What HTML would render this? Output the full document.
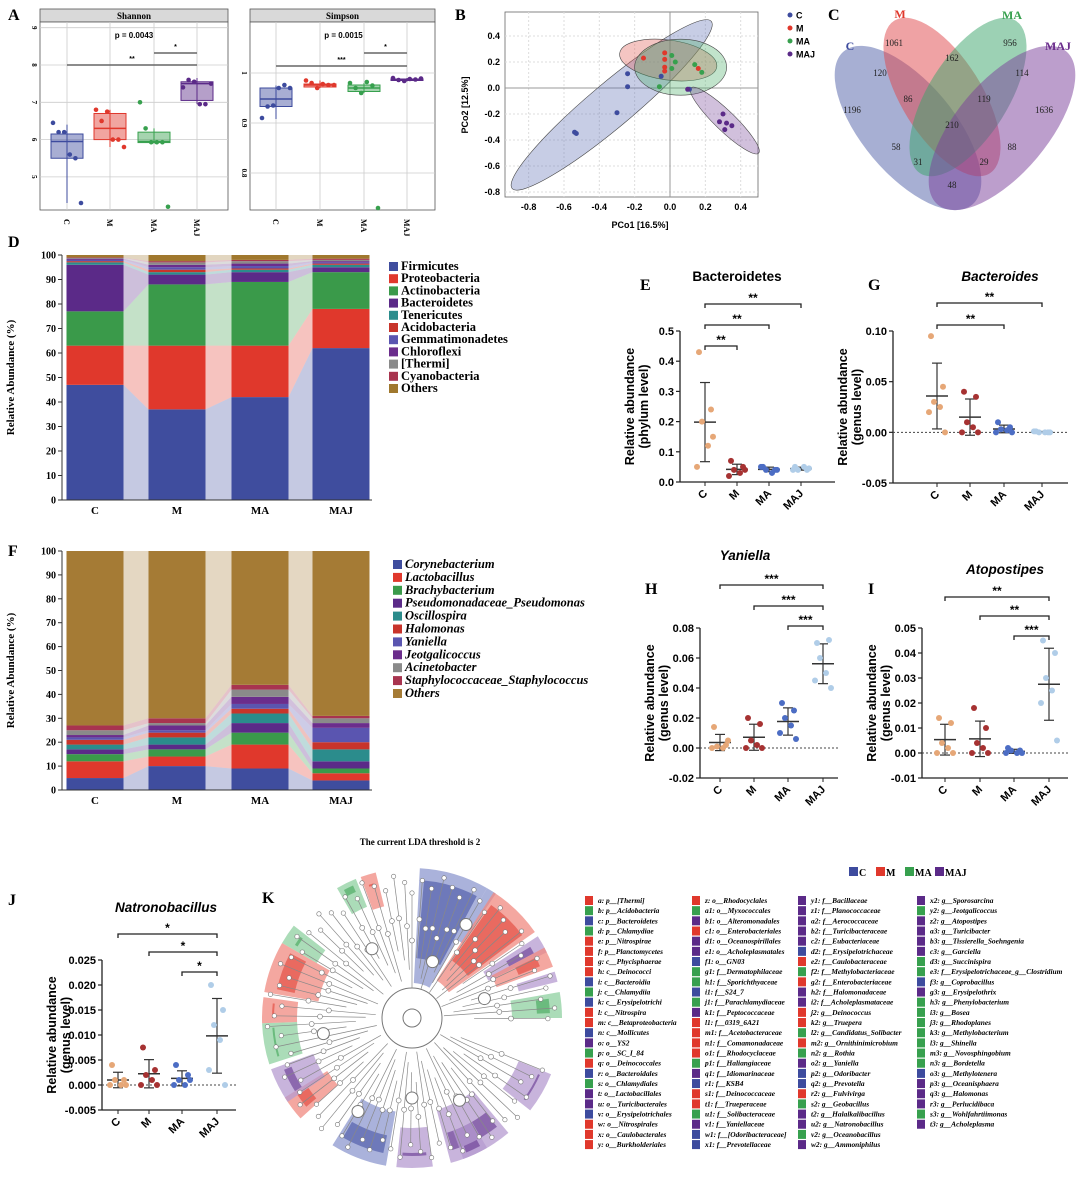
<!DOCTYPE html>
<html><head><meta charset="utf-8">
<style>
html,body{margin:0;padding:0;background:#fff;}
svg{display:block;}
.sv{font-family:"Liberation Serif",serif;font-weight:bold;}
.ss{font-family:"Liberation Sans",sans-serif;font-weight:bold;}
</style></head>
<body>
<svg id="fig" width="1080" height="1177" viewBox="0 0 1080 1177" xmlns="http://www.w3.org/2000/svg"></svg>
<script>
// ---------- DATA ----------
const groups=['C','M','MA','MAJ'];
// Panel A box stats [q1, median, q3, whiskerLow, whiskerHigh]
const shannonBox=[[5.5,5.95,6.15,4.3,6.4],[6.0,6.3,6.7,5.8,6.8],[5.92,5.95,6.2,5.9,6.3],[7.05,7.5,7.55,6.95,7.65]];
const shannonPts=[[6.45,6.2,6.2,5.6,5.5,4.3],[6.8,6.5,6.75,6.0,6.0,5.8],[7.0,6.3,5.93,5.93,5.93,4.2],[7.4,7.6,7.55,6.95,6.95,7.5]];
const simpsonBox=[[0.933,0.948,0.97,0.908,0.975],[0.972,0.976,0.978,0.97,0.985],[0.963,0.97,0.976,0.96,0.98],[0.985,0.987,0.988,0.983,0.99]];
const simpsonPts=[[0.91,0.933,0.935,0.97,0.976,0.97],[0.985,0.98,0.97,0.978,0.976,0.976],[0.98,0.97,0.96,0.982,0.975,0.73],[0.99,0.986,0.984,0.988,0.987,0.989]];
// Panel B PCoA points [PCo1, PCo2]
const pcoaC=[[-0.24,0.11],[-0.24,0.01],[-0.05,0.09],[-0.30,-0.19],[-0.53,-0.35],[-0.54,-0.34],[0.11,-0.01]];
const pcoaM=[[-0.15,0.23],[-0.03,0.27],[-0.03,0.22],[-0.03,0.16],[-0.03,0.13],[0.16,0.15]];
const pcoaMA=[[0.01,0.25],[0.03,0.2],[0.01,0.15],[-0.06,0.01],[0.14,0.18],[0.18,0.12]];
const pcoaMAJ=[[0.30,-0.2],[0.28,-0.26],[0.32,-0.27],[0.35,-0.29],[0.31,-0.32],[0.10,-0.01]];
// ellipses [cx, cy, rx(px), ry(px), rotation deg]
const ellC=[-0.33,-0.13,130,22,-40];
const ellM=[-0.01,0.215,49,20,8];
const ellMA=[0.06,0.16,46,28,0];
const ellMAJ=[0.31,-0.25,47,10,44];
// Panel C Venn counts
const vennLabels=['1061','956','120','162','114','86','119','1196','1636','210','58','88','31','29','48'];
// Panel D phylum stacks
const phyla=['Firmicutes','Proteobacteria','Actinobacteria','Bacteroidetes','Tenericutes','Acidobacteria','Gemmatimonadetes','Chloroflexi','[Thermi]','Cyanobacteria','Others'];
const phylumVals=[[47,37,42,62],[16,26,21,16],[14,25,26,15],[19,4,4,2],[1,1,1,1],[0.5,1,0.5,0.5],[0.5,1,1,0.5],[0.5,1,1,0.5],[0.3,1,1,0.5],[0.2,0.5,0.5,0.5],[1,2.5,2,1.5]];
// Panel F genus stacks
const genera=['Corynebacterium','Lactobacillus','Brachybacterium','Pseudomonadaceae_Pseudomonas','Oscillospira','Halomonas','Yaniella','Jeotgalicoccus','Acinetobacter','Staphylococcaceae_Staphylococcus','Others'];
const genusVals=[[5,10,9,4],[7,4,10,3],[3,3,5,2],[2,2,4,3],[2,3,4,5],[2,2,2,3],[1,1,2,6],[1,2,3,2],[2,1,3,2],[2,2,2,1],[73,70,56,69]];
const pctTicks=[0,10,20,30,40,50,60,70,80,90,100];
// dot plots
const eVals=[[0.43,0.24,0.2,0.12,0.05,0.15],[0.07,0.05,0.04,0.03,0.02,0.04],[0.05,0.04,0.04,0.03,0.05,0.04],[0.05,0.04,0.04,0.05,0.04,0.045]];
const eTicks=[0,0.1,0.2,0.3,0.4,0.5];
const gVals=[[0.095,0.045,0.03,0.025,0.02,0.0],[0.04,0.035,0.01,0.005,0.0,0.0],[0.01,0.005,0.003,0.002,0.0,0.0],[0.001,0,0,0,0.001,0]];
const gTicks=[-0.05,0,0.05,0.10];
const hVals=[[0.014,0.002,0.001,0,0,0.005],[0.02,0.016,0.005,0.002,0,0],[0.03,0.025,0.02,0.015,0.01,0.006],[0.07,0.072,0.06,0.05,0.045,0.04]];
const hTicks=[-0.02,0,0.02,0.04,0.06,0.08];
const iVals=[[0.014,0.012,0.004,0.002,0,0],[0.018,0.01,0.004,0.002,0,0],[0.002,0.001,0.001,0,0,0],[0.045,0.04,0.03,0.025,0.02,0.005]];
const iTicks=[-0.01,0,0.01,0.02,0.03,0.04,0.05];
const jVals=[[0.004,0.001,0.001,0,0,0],[0.0075,0.003,0.002,0.001,0,0],[0.004,0.002,0.001,0,0,0.001],[0.02,0.015,0.012,0.009,0.003,0.0]];
const jTicks=[-0.005,0,0.005,0.010,0.015,0.020,0.025];
// LEfSe legend
const lefCol1=[['a: p__[Thermi]','r'],['b: p__Acidobacteria','g'],['c: p__Bacteroidetes','b'],['d: p__Chlamydiae','g'],['e: p__Nitrospirae','r'],['f: p__Planctomycetes','r'],['g: c__Phycisphaerae','r'],['h: c__Deinococci','r'],['i: c__Bacteroidia','b'],['j: c__Chlamydiia','g'],['k: c__Erysipelotrichi','b'],['l: c__Nitrospira','r'],['m: c__Betaproteobacteria','r'],['n: c__Mollicutes','b'],['o: o__YS2','p'],['p: o__SC_I_84','g'],['q: o__Deinococcales','r'],['r: o__Bacteroidales','b'],['s: o__Chlamydiales','g'],['t: o__Lactobacillales','p'],['u: o__Turicibacterales','p'],['v: o__Erysipelotrichales','b'],['w: o__Nitrospirales','r'],['x: o__Caulobacterales','r'],['y: o__Burkholderiales','r']];
const lefCol2=[['z: o__Rhodocyclales','r'],['a1: o__Myxococcales','g'],['b1: o__Alteromonadales','p'],['c1: o__Enterobacteriales','r'],['d1: o__Oceanospirillales','p'],['e1: o__Acholeplasmatales','p'],['f1: o__GN03','b'],['g1: f__Dermatophilaceae','g'],['h1: f__Sporichthyaceae','g'],['i1: f__S24_7','b'],['j1: f__Parachlamydiaceae','g'],['k1: f__Peptococcaceae','p'],['l1: f__0319_6A21','r'],['m1: f__Acetobacteraceae','r'],['n1: f__Comamonadaceae','r'],['o1: f__Rhodocyclaceae','r'],['p1: f__Haliangiaceae','g'],['q1: f__Idiomarinaceae','p'],['r1: f__KSB4','b'],['s1: f__Deinococcaceae','r'],['t1: f__Trueperaceae','r'],['u1: f__Solibacteraceae','g'],['v1: f__Yaniellaceae','p'],['w1: f__[Odoribacteraceae]','b'],['x1: f__Prevotellaceae','b']];
const lefCol3=[['y1: f__Bacillaceae','p'],['z1: f__Planococcaceae','p'],['a2: f__Aerococcaceae','p'],['b2: f__Turicibacteraceae','p'],['c2: f__Eubacteriaceae','p'],['d2: f__Erysipelotrichaceae','b'],['e2: f__Caulobacteraceae','r'],['f2: f__Methylobacteriaceae','g'],['g2: f__Enterobacteriaceae','r'],['h2: f__Halomonadaceae','p'],['i2: f__Acholeplasmataceae','p'],['j2: g__Deinococcus','r'],['k2: g__Truepera','r'],['l2: g__Candidatus_Solibacter','g'],['m2: g__Ornithinimicrobium','r'],['n2: g__Rothia','g'],['o2: g__Yaniella','p'],['p2: g__Odoribacter','b'],['q2: g__Prevotella','b'],['r2: g__Fulvivirga','r'],['s2: g__Geobacillus','g'],['t2: g__Halalkalibacillus','p'],['u2: g__Natronobacillus','p'],['v2: g__Oceanobacillus','g'],['w2: g__Ammoniphilus','p']];
const lefCol4=[['x2: g__Sporosarcina','p'],['y2: g__Jeotgalicoccus','g'],['z2: g__Atopostipes','p'],['a3: g__Turicibacter','p'],['b3: g__Tissierella_Soehngenia','p'],['c3: g__Garciella','p'],['d3: g__Succinispira','g'],['e3: f__Erysipelotrichaceae_g__Clostridium','g'],['f3: g__Coprobacillus','b'],['g3: g__Erysipelothrix','p'],['h3: g__Phenylobacterium','g'],['i3: g__Bosea','g'],['j3: g__Rhodoplanes','g'],['k3: g__Methylobacterium','g'],['l3: g__Shinella','g'],['m3: g__Novosphingobium','g'],['n3: g__Bordetella','g'],['o3: g__Methylotenera','b'],['p3: g__Oceanisphaera','p'],['q3: g__Halomonas','p'],['r3: g__Perlucidibaca','p'],['s3: g__Wohlfahrtiimonas','g'],['t3: g__Acholeplasma','p']];
// cladogram highlighted sectors [startDeg, endDeg, innerR, color]
const cladeSectors=[[3,30,35,'b'],[30,34,90,'b'],[33,55,45,'r'],[57,64,85,'p'],[62,70,90,'r'],[72,76,110,'p'],[80,90,100,'g'],[112,128,115,'p'],[140,165,95,'p'],[150,160,120,'p'],[172,186,110,'p'],[190,212,95,'b'],[228,238,100,'r'],[236,250,105,'p'],[252,268,115,'g'],[268,278,115,'r'],[280,300,95,'r'],[300,308,110,'g'],[330,338,120,'g'],[340,346,115,'r']];

// ---------- HELPERS ----------
const NS='http://www.w3.org/2000/svg';
const svg=document.getElementById('fig');
function mk(tag,attrs,parent){const e=document.createElementNS(NS,tag);for(const k in attrs)e.setAttribute(k,attrs[k]);(parent||svg).appendChild(e);return e;}
function tx(x,y,s,attrs,parent){const e=mk('text',Object.assign({x:x,y:y},attrs),parent);e.textContent=s;return e;}
function grp(name){const g=mk('g',{});


return g;}
const dotCol=['#e6a777','#a63232','#4c6dc4','#b0cde8'];
const grpCol=['#3d4b9e','#e0382c','#37a04e','#5b2a88'];
const lefColor={r:'#e0382c',g:'#37a04e',b:'#3d4b9e',p:'#5b2a88'};

// panel letters
[['A',8,20],['B',455,20],['C',828,20],['D',8,247],['E',640,290],['G',868,290],['F',8,556],['H',645,594],['I',868,594],['J',8,905],['K',262,903]].forEach(p=>{
const t=tx(p[1],p[2],p[0],{class:'sv','font-size':16});


});

// ---------- PANEL A ----------
function boxPanel(name,x0,x1,title,box,pts,yOf,ticks,gx,pText,sig){
 const g=grp(name);
 const fr=mk('rect',{x:x0,y:9,width:x1-x0,height:13,fill:'#d9d9d9',stroke:'#555','stroke-width':0.8},g);
 
 const tt=tx((x0+x1)/2,19,title,{class:'sv','font-size':9,'text-anchor':'middle'},g);
 
 const pl=mk('rect',{x:x0,y:22,width:x1-x0,height:188,fill:'#fff',stroke:'#555','stroke-width':0.8},g);
 
 ticks.forEach(t=>{const y=yOf(t);
  const l=mk('line',{x1:x0,x2:x1,y1:y,y2:y,stroke:'#ccc','stroke-width':0.8},g);
  
  const lb=tx(x0-8,y,String(t),{class:'sv','font-size':7,'text-anchor':'middle',transform:`rotate(90 ${x0-8} ${y})`},g);
  
 });
 gx.forEach((x,i)=>{
  const l=mk('line',{x1:x,x2:x,y1:22,y2:210,stroke:'#ccc','stroke-width':0.8},g);
  
  const lb=tx(x,216,groups[i],{class:'sv','font-size':8,'text-anchor':'start',transform:`rotate(90 ${x-3} 216)`},g);
  
  const b=box[i];
  const wl=mk('line',{x1:x,x2:x,y1:yOf(b[3]),y2:yOf(b[4]),stroke:grpCol[i],'stroke-width':1},g);
  
  const r=mk('rect',{x:x-16,y:yOf(b[2]),width:32,height:yOf(b[0])-yOf(b[2]),fill:grpCol[i],'fill-opacity':0.45,stroke:grpCol[i],'stroke-width':1},g);
  
  const md=mk('line',{x1:x-16,x2:x+16,y1:yOf(b[1]),y2:yOf(b[1]),stroke:grpCol[i],'stroke-width':1.5},g);
  
  pts[i].forEach((v,k)=>{
   const c=mk('circle',{cx:x-14+k*5.6,cy:yOf(v),r:2.3,fill:grpCol[i]},g);
   
  });
 });
 const pt=tx((gx[0]+gx[3])/2+2,38,pText,{class:'ss','font-size':8,'text-anchor':'middle'},g);
 
 sig.forEach(s=>{
  const l=mk('line',{x1:gx[s[0]],x2:gx[s[1]],y1:s[2],y2:s[2],stroke:'#666','stroke-width':1.5},g);
  
  const st=tx((gx[s[0]]+gx[s[1]])/2,s[2]-4,s[3],{class:'ss','font-size':7,'text-anchor':'middle'},g);
  
 });
}
boxPanel('shannon-boxplot',40,228,'Shannon',shannonBox,shannonPts,v=>65+(8-v)*37.3,[5,6,7,8,9],[67,110,154,197],'p = 0.0043',[[0,3,65,'**'],[2,3,53,'*']]);
boxPanel('simpson-boxplot',250,435,'Simpson',simpsonBox,simpsonPts,v=>73+(1-v)*500,[0.8,0.9,1.0],[276,320,364,407],'p = 0.0015',[[0,3,66,'***'],[2,3,53,'*']]);

// ---------- PANEL B ----------
(function(){
 const g=grp('pcoa-plot');
 const X=v=>670+v*176.7, Y=v=>88-v*130;
 const fr=mk('rect',{x:505,y:12,width:253,height:185,fill:'#fff',stroke:'#666','stroke-width':0.8},g);
 
 [-0.8,-0.6,-0.4,-0.2,0,0.2,0.4].forEach(v=>{
  const l=mk('line',{x1:X(v),x2:X(v),y1:12,y2:197,stroke:'#ddd','stroke-dasharray':'2,2'},g);
  
  const t=tx(X(v),210,v.toFixed(1),{class:'ss','font-size':9,'text-anchor':'middle'},g);
  
  const l2=mk('line',{x1:505,x2:758,y1:Y(v),y2:Y(v),stroke:'#ddd','stroke-dasharray':'2,2'},g);
  
  const t2=tx(500,Y(v)+3,v.toFixed(1),{class:'ss','font-size':9,'text-anchor':'end'},g);
  
 });
 const zx=mk('line',{x1:505,x2:758,y1:Y(0),y2:Y(0),stroke:'#999'},g);
 
 const zy=mk('line',{x1:X(0),x2:X(0),y1:12,y2:197,stroke:'#999'},g);
 
 const ells=[ellC,ellM,ellMA,ellMAJ], pts=[pcoaC,pcoaM,pcoaMA,pcoaMAJ];
 const ecol=['#5f6fb5','#e05a50','#4cae6a','#7a4a9c'];
 ells.forEach((e,i)=>{
  const el=mk('ellipse',{cx:X(e[0]),cy:Y(e[1]),rx:e[2],ry:e[3],transform:`rotate(${e[4]} ${X(e[0])} ${Y(e[1])})`,fill:ecol[i],'fill-opacity':0.35,stroke:'#444','stroke-width':0.6},g);
  
 });
 pts.forEach((arr,i)=>arr.forEach(p=>{
  const c=mk('circle',{cx:X(p[0]),cy:Y(p[1]),r:2.5,fill:grpCol[i]},g);
  
 }));
 const xt=tx(640,228,'PCo1 [16.5%]',{class:'ss','font-size':9,'text-anchor':'middle'},g);
 
 const yt=tx(468,105,'PCo2 [12.5%]',{class:'ss','font-size':9,'text-anchor':'middle',transform:'rotate(-90 468 105)'},g);
 
 groups.forEach((n,i)=>{
  const c=mk('circle',{cx:790,cy:15+i*13,r:2.5,fill:grpCol[i]},g);
  
  const t=tx(796,18.5+i*13,n,{class:'ss','font-size':9,'font-weight':'normal'},g);
  
 });
})();

// ---------- PANEL C ----------
(function(){
 const g=grp('venn-diagram');
 const E=[[908,128,100,46,50,'#5060a8'],[942,97,90,40,58,'#e0454a'],[968,97,90,40,122,'#3aa36a'],[1002,128,100,46,130,'#7a3d9a']];
 E.forEach((e,i)=>{
  const el=mk('ellipse',{cx:e[0],cy:e[1],rx:e[2],ry:e[3],transform:`rotate(${e[4]} ${e[0]} ${e[1]})`,fill:e[5],'fill-opacity':0.5},g);
  
 });
 [['C',850,50,'#3d4b9e'],['M',900,18,'#e0382c'],['MA',1012,19,'#37a04e'],['MAJ',1058,50,'#6b2d8c']].forEach(l=>{
  const t=tx(l[1],l[2],l[0],{class:'sv','font-size':12,fill:l[3],'text-anchor':'middle'},g);
  
 });
 const pos=[[894,46],[1010,46],[880,76],[952,61],[1022,76],[908,102],[984,102],[852,113],[1044,113],[952,128],[896,150],[1012,150],[918,165],[984,165],[952,188]];
 vennLabels.forEach((s,i)=>{
  const t=tx(pos[i][0],pos[i][1],s,{'font-family':'Liberation Serif,serif','font-size':9,'text-anchor':'middle',fill:'#222'},g);
  
 });
})();

// ---------- STACKED BARS ----------
const barX=[95,177,260,341], barW=57;
function stacked(name,top,bot,vals,names,cols,yTitle,legX,legY,legStep,italic){
 const g=grp(name);
 const Y=v=>bot-v/100*(bot-top);
 const cum=groups.map((_,j)=>{let c=0;return vals.map(r=>{const a=c;c+=r[j];return [a,c];});});
 for(let j=0;j<3;j++) vals.forEach((r,i)=>{
  const a=cum[j][i], b=cum[j+1][i];
  const x0=barX[j]+barW/2, x1=barX[j+1]-barW/2;
  const p=mk('polygon',{points:`${x0},${Y(a[0])} ${x0},${Y(a[1])} ${x1},${Y(b[1])} ${x1},${Y(b[0])}`,fill:cols[i],'fill-opacity':0.3},g);
  
 });
 vals.forEach((r,i)=>groups.forEach((gn,j)=>{
  const a=cum[j][i];
  const rc=mk('rect',{x:barX[j]-barW/2,y:Y(a[1]),width:barW,height:Y(a[0])-Y(a[1]),fill:cols[i]},g);
  
 }));
 const ax=mk('line',{x1:62,x2:62,y1:top,y2:bot,stroke:'#333'},g);
 
 const bx=mk('line',{x1:62,x2:372,y1:bot,y2:bot,stroke:'#333'},g);
 
 pctTicks.forEach(t=>{
  const l=mk('line',{x1:58,x2:62,y1:Y(t),y2:Y(t),stroke:'#333'},g);
  
  const s=tx(56,Y(t)+3.5,String(t),{class:'sv','font-size':10,'text-anchor':'end'},g);
  
 });
 groups.forEach((gn,j)=>{
  const s=tx(barX[j],bot+14,gn,{class:'sv','font-size':11,'text-anchor':'middle'},g);
  
 });
 const ym=(top+bot)/2;
 const yt=tx(14,ym,yTitle,{class:'sv','font-size':11,'text-anchor':'middle',transform:`rotate(-90 14 ${ym})`},g);
 
 names.forEach((n,i)=>{
  const r=mk('rect',{x:legX,y:legY+i*legStep-8,width:9,height:9,fill:cols[i]},g);
  
  const t=tx(legX+12,legY+i*legStep,n,{class:'sv','font-size':12.5,'font-style':italic?'italic':'normal'},g);
  
 });
}
const phylCols=['#3f4d9e','#e0382c','#3a9a4a','#5b2a88','#2b8c8c','#c8342b','#5a55b0','#6b2d8c','#8a8a8a','#a8344f','#a0782e'];
const genCols=['#3f4d9e','#e0382c','#3a9a4a','#5b2a88','#2b8c8c','#c8342b','#5a55b0','#6b2d8c','#8a8a8a','#a8344f','#a57b35'];
stacked('phylum-stacked-bar',255,500,phylumVals,phyla,phylCols,'Relative Abundance (%)',389,270,12.2,false);
stacked('genus-stacked-bar',551,790,genusVals,genera,genCols,'Relative Abundance (%)',393,568,12.9,true);
const lda=tx(420,845,'The current LDA threshold is 2',{class:'sv','font-size':9,'text-anchor':'middle'});



// ---------- DOT PLOTS ----------
function dotPlot(name,axX,xEnd,yTop,yBot,vmin,vmax,ticks,gx,vals,title,titleX,titleY,italic,yT1,yT2,sig,dec){
 const g=grp(name);
 const Y=v=>yBot-(v-vmin)/(vmax-vmin)*(yBot-yTop);
 const a=mk('line',{x1:axX,x2:axX,y1:yTop,y2:yBot,stroke:'#222','stroke-width':1.3},g);
 
 ticks.forEach(t=>{
  const l=mk('line',{x1:axX-4,x2:axX,y1:Y(t),y2:Y(t),stroke:'#222','stroke-width':1.2},g);
  
  const s=tx(axX-6,Y(t)+4,t.toFixed(dec),{class:'ss','font-size':11,'text-anchor':'end'},g);
  
 });
 const xb=mk('line',{x1:axX,x2:xEnd,y1:yBot,y2:yBot,stroke:'#222','stroke-width':1.3},g);
 
 if(vmin<0){const z=mk('line',{x1:axX,x2:xEnd,y1:Y(0),y2:Y(0),stroke:'#444','stroke-dasharray':'2,2'},g);
  }
 gx.forEach((x,i)=>{
  const tk=mk('line',{x1:x,x2:x,y1:yBot,y2:yBot+4,stroke:'#222'},g);
  
  const s=tx(x+3,yBot+12,groups[i],{class:'ss','font-size':11,'text-anchor':'end',transform:`rotate(-45 ${x+3} ${yBot+12})`},g);
  
  const v=vals[i], m=v.reduce((p,c)=>p+c,0)/v.length;
  const sd=Math.sqrt(v.reduce((p,c)=>p+(c-m)*(c-m),0)/(v.length-1));
  const el=mk('line',{x1:x,x2:x,y1:Y(m-sd),y2:Y(m+sd),stroke:'#333','stroke-width':1.2},g);
  
  [m-sd,m+sd].forEach(e=>{const c=mk('line',{x1:x-5,x2:x+5,y1:Y(e),y2:Y(e),stroke:'#333','stroke-width':1.2},g);
   });
  const ml=mk('line',{x1:x-11,x2:x+11,y1:Y(m),y2:Y(m),stroke:'#333','stroke-width':1.5},g);
  
  const off=[-6,6,-3,3,-8,8];
  v.forEach((p,k)=>{
   const c=mk('circle',{cx:x+off[k],cy:Y(p),r:3,fill:dotCol[i]},g);
   
  });
 });
 const t=tx(titleX,titleY,title,{class:'ss','font-size':13.5,'text-anchor':'middle','font-style':italic?'italic':'normal'},g);
 
 const ym=(yTop+yBot)/2;
 const y1=tx(axX-46,ym,yT1,{class:'ss','font-size':12.5,'text-anchor':'middle',transform:`rotate(-90 ${axX-46} ${ym})`},g);
 
 const y2=tx(axX-32,ym,yT2,{class:'ss','font-size':12.5,'text-anchor':'middle',transform:`rotate(-90 ${axX-32} ${ym})`},g);
 
 sig.forEach(s=>{
  const x0=gx[s[0]],x1=gx[s[1]];
  const l=mk('path',{d:`M${x0},${s[2]+4}V${s[2]}H${x1}V${s[2]+4}`,fill:'none',stroke:'#222','stroke-width':1.3},g);
  
  const st=tx((x0+x1)/2,s[2]-2,s[3],{class:'ss','font-size':12,'text-anchor':'middle'},g);
  
 });
}
dotPlot('bacteroidetes-dotplot',680,835,331,482,0,0.5,eTicks,[705,737,769,801],eVals,'Bacteroidetes',737,281,false,'Relative abundance','(phylum level)',[[0,3,304,'**'],[0,2,325,'**'],[0,1,346,'**']],1);
dotPlot('bacteroides-dotplot',893,1068,331,483,-0.05,0.10,gTicks,[937,970,1004,1042],gVals,'Bacteroides',1000,281,true,'Relative abundance','(genus level)',[[0,3,303,'**'],[0,2,325,'**']],2);
dotPlot('yaniella-dotplot',700,838,628,778,-0.02,0.08,hTicks,[720,754,788,823],hVals,'Yaniella',745,560,true,'Relative abundance','(genus level)',[[0,3,585,'***'],[1,3,606,'***'],[2,3,626,'***']],2);
dotPlot('atopostipes-dotplot',922,1068,628,778,-0.01,0.05,iTicks,[945,980,1014,1049],iVals,'Atopostipes',1005,574,true,'Relative abundance','(genus level)',[[0,3,597,'**'],[1,3,616,'**'],[2,3,636,'***']],2);
dotPlot('natronobacillus-dotplot',102,236,960,1110,-0.005,0.025,jTicks,[118,149,182,217],jVals,'Natronobacillus',166,912,true,'Relative abundance','(genus level)',[[0,3,934,'*'],[1,3,952,'*'],[2,3,972,'*']],3);

// ---------- PANEL K CLADOGRAM ----------
(function(){
 const g=grp('lefse-cladogram');
 const cx=412, cy=1018, R=150;
 const P=(a,r)=>[cx+r*Math.sin(a*Math.PI/180), cy-r*Math.cos(a*Math.PI/180)];
 const lite={r:'#f08a80',g:'#8fd0a0',b:'#8e98cf',p:'#b59bd0'};
 cladeSectors.forEach(s=>{
  const [a0,a1,ri,c]=s;
  const p1=P(a0,ri),p2=P(a1,ri),p3=P(a1,R),p4=P(a0,R);
  const big=(a1-a0)>180?1:0;
  const pa=mk('path',{d:`M${p1}A${ri},${ri} 0 ${big} 1 ${p2}L${p3}A${R},${R} 0 ${big} 0 ${p4}Z`,fill:lite[c],'fill-opacity':0.75},g);
  
  const q1=P(a0+2,ri+25),q2=P(a1-2,ri+25),q3=P(a1-2,R-12),q4=P(a0+2,R-12);
  const pb=mk('path',{d:`M${q1}A${ri+25},${ri+25} 0 0 1 ${q2}L${q3}A${R-12},${R-12} 0 0 0 ${q4}Z`,fill:lefColor[c],'fill-opacity':0.55},g);
  
 });
 const c0=mk('circle',{cx:cx,cy:cy,r:30,fill:'none',stroke:'#777','stroke-width':1},g);
 
 const c1=mk('circle',{cx:cx,cy:cy,r:9,fill:'#fff',stroke:'#777'},g);
 
 for(let a=0;a<360;a+=4.3){
  if(a>92&&a<108)continue;
  const r1=30+((a*7)%40), r2=125+((a*3)%20);
  const p1=P(a,r1),p2=P(a,r2);
  const l=mk('line',{x1:p1[0],y1:p1[1],x2:p2[0],y2:p2[1],stroke:'#888','stroke-width':0.7},g);
  
  const n=mk('circle',{cx:p2[0],cy:p2[1],r:2.2,fill:'#fff',stroke:'#777','stroke-width':0.6},g);
  
  const m=P(a,(r1+r2)/2);
  const n2=mk('circle',{cx:m[0],cy:m[1],r:2.5,fill:'#fff',stroke:'#777','stroke-width':0.6},g);
  
 }
 [[30,108],[75,75],[150,95],[210,108],[260,90],[330,80],[20,60],[180,80]].forEach(q=>{
  const p=P(q[0],q[1]);
  const n=mk('circle',{cx:p[0],cy:p[1],r:6,fill:'#fff',stroke:'#777'},g);
  
 });
 groups.forEach((n,i)=>{
  const xs=[849,876,905,935][i];
  const r=mk('rect',{x:xs,y:867,width:9,height:9,fill:lefColor['brgp'[i]]},g);
  
  const t=tx(xs+10,876,n,{class:'sv','font-size':10},g);
  
 });
 [[lefCol1,585],[lefCol2,692],[lefCol3,798],[lefCol4,917]].forEach(col=>{
  col[0].forEach((e,k)=>{
   const y=903+k*10.17;
   const r=mk('rect',{x:col[1],y:y-7,width:8,height:9,fill:lefColor[e[1]]},g);
   
   const t=tx(col[1]+13,y,e[0],{class:'sv','font-size':7.4,'font-style':'italic'},g);
   
  });
 });
})();
</script>
</body></html>
